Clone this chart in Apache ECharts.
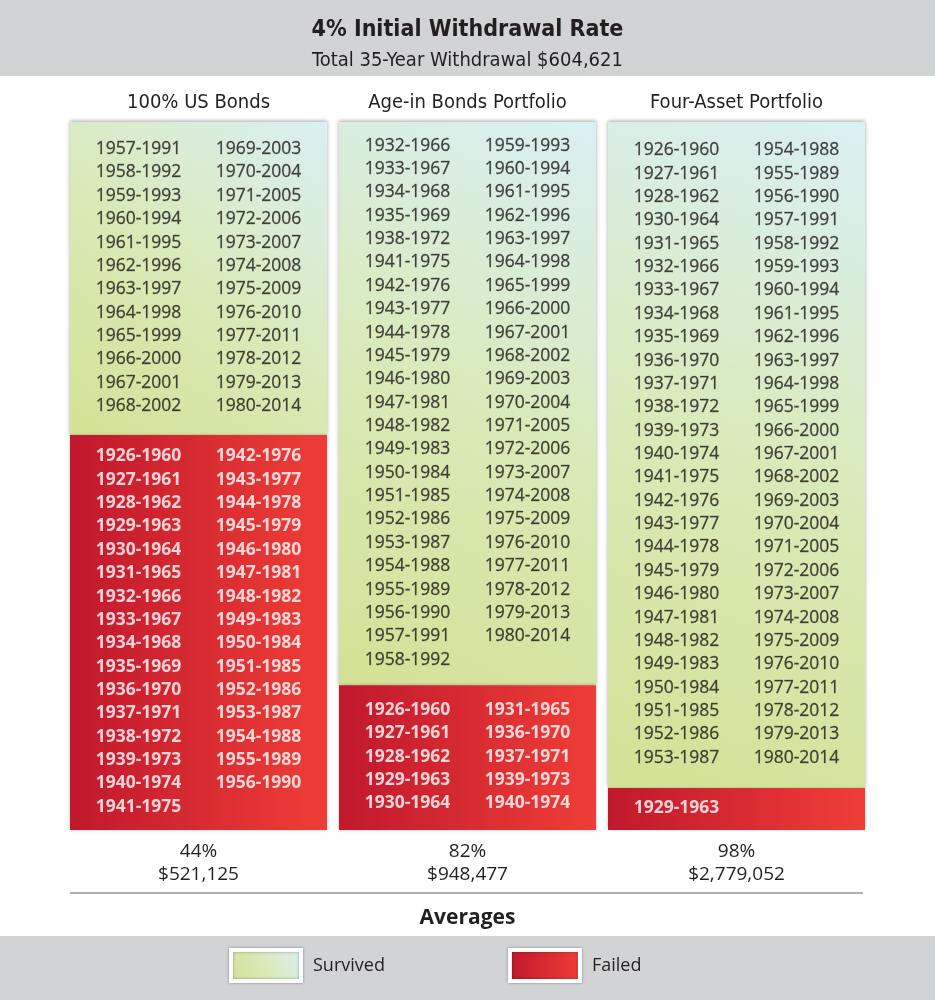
<!DOCTYPE html>
<html><head><meta charset="utf-8">
<script src="https://cdn.jsdelivr.net/npm/echarts@6/dist/echarts.min.js"></script>
<style>html,body{margin:0;padding:0;background:#fff}#c{width:935px;height:1000px}</style>
</head><body><div id="c"></div>
<script>
// ---- data ----
const portfolios = ['100% US Bonds', 'Age-in Bonds Portfolio', 'Four-Asset Portfolio'];
const successRates = ['44%', '82%', '98%'];
const avgEndingValues = ['$521,125', '$948,477', '$2,779,052'];
// start years of the 35-year retirement periods (period = start .. start+34)
const survivedBonds = [1957,1958,1959,1960,1961,1962,1963,1964,1965,1966,1967,1968,
                       1969,1970,1971,1972,1973,1974,1975,1976,1977,1978,1979,1980];
const survivedAgeIn = [1932,1933,1934,1935,1938,1941,1942,1943,1944,1945,1946,1947,1948,1949,1950,1951,1952,1953,1954,1955,1956,1957,1958,
                       1959,1960,1961,1962,1963,1964,1965,1966,1967,1968,1969,1970,1971,1972,1973,1974,1975,1976,1977,1978,1979,1980];
const survivedFourAsset = [1926,1927,1928,1930,1931,1932,1933,1934,1935,1936,1937,1938,1939,1940,1941,1942,1943,1944,1945,1946,1947,1948,1949,1950,1951,1952,1953,
                           1954,1955,1956,1957,1958,1959,1960,1961,1962,1963,1964,1965,1966,1967,1968,1969,1970,1971,1972,1973,1974,1975,1976,1977,1978,1979,1980];
const failedBonds = [1926,1927,1928,1929,1930,1931,1932,1933,1934,1935,1936,1937,1938,1939,1940,1941,
                     1942,1943,1944,1945,1946,1947,1948,1949,1950,1951,1952,1953,1954,1955,1956];
const failedAgeIn = [1926,1927,1928,1929,1930, 1931,1936,1937,1939,1940];
const failedFourAsset = [1929];
// block heights (in text-row units)
const survivedHeight = [13.4, 24.1, 28.5];
const failedHeight = [16.9, 6.2, 1.8];
const totalHeight = 30.3;

const survivedLists = [survivedBonds, survivedAgeIn, survivedFourAsset];
const failedLists = [failedBonds, failedAgeIn, failedFourAsset];

// ---- build ----
const NARROW = "'Liberation Sans Narrow','DejaVu Sans Condensed',Roboto,sans-serif";
const BASE = "'Open Sans',sans-serif";
const INK = '#231f20';

function labelData(lists, heights, starts) {
  const out = [];
  lists.forEach((list, i) => {
    const rows = Math.ceil(list.length / 2);
    const first = starts[i] + (heights[i] - (rows - 1)) / 2 - 0.04;
    list.forEach((y, j) => {
      const col = j < rows ? 0 : 1;
      const k = col ? j - rows : j;
      out.push({ name: y + '-' + (y + 34), value: [i + (col ? 0.223 : -0.223), first + k] });
    });
  });
  return out;
}

const survivedColor = new echarts.graphic.LinearGradient(0, 1, 1, 0, [
  { offset: 0, color: '#d3e294' }, { offset: 0.5, color: '#d9eab9' }, { offset: 1, color: '#daf0f4' }]);
const failedColor = new echarts.graphic.LinearGradient(0, 0, 1, 0, [
  { offset: 0, color: '#c0182d' }, { offset: 1, color: '#ef3e37' }]);

const chart = echarts.init(document.getElementById('c'));
chart.setOption({
  backgroundColor: '#fff',
  animation: false,
  title: [
    { text: '4% Initial Withdrawal Rate', left: 'center', top: 11,
      textStyle: { fontFamily: NARROW, fontSize: 23, fontWeight: 'bold', color: INK, lineHeight: 28 } },
    { text: 'Total 35-Year Withdrawal $604,621', left: 'center', top: 44,
      textStyle: { fontFamily: NARROW, fontSize: 20, fontWeight: 'normal', color: INK, lineHeight: 23 } },
    { text: 'Averages', left: 'center', top: 900,
      textStyle: { fontFamily: BASE, fontSize: 21, fontWeight: 'bold', color: INK, lineHeight: 26 } }
  ],
  graphic: [
    { type: 'rect', z: -1, shape: { x: 0, y: 0, width: 935, height: 76 }, style: { fill: '#d1d3d4' } },
    { type: 'rect', z: -1, shape: { x: 0, y: 936, width: 935, height: 64 }, style: { fill: '#d1d3d4' } },
    { type: 'line', z: -1, shape: { x1: 70, y1: 893, x2: 863, y2: 893 }, style: { stroke: '#aeaeae', lineWidth: 2 } }
  ],
  legend: {
    left: 229, top: 948, padding: 0, itemWidth: 70, itemHeight: 31, itemGap: 123, selectedMode: false,
    textStyle: { fontFamily: BASE, fontSize: 18, color: INK, padding: [0, 0, 0, 7] },
    data: [
      { name: 'Survived', icon: 'rect', itemStyle: { borderColor: '#fff', borderWidth: 4, shadowBlur: 3, shadowColor: 'rgba(0,0,0,0.35)' } },
      { name: 'Failed', icon: 'rect', itemStyle: { borderColor: '#fff', borderWidth: 4, shadowBlur: 3, shadowColor: 'rgba(0,0,0,0.35)' } }
    ]
  },
  grid: { left: 64, width: 807, top: 122, height: 708 },
  xAxis: [
    { type: 'category', data: portfolios, position: 'top',
      axisLine: { show: false }, axisTick: { show: false },
      axisLabel: { fontFamily: NARROW, fontSize: 20, color: INK, lineHeight: 23, margin: 8 } },
    { type: 'category', data: portfolios.map((p, i) => successRates[i] + '\n' + avgEndingValues[i]), position: 'bottom',
      axisLine: { show: false }, axisTick: { show: false },
      axisLabel: { fontFamily: BASE, fontSize: 19, color: INK, lineHeight: 23, margin: 10 } },
    { type: 'value', min: -0.5, max: 2.5, show: false }
  ],
  yAxis: { type: 'value', inverse: true, min: 0, max: totalHeight, show: false },
  series: [
    { name: 'Survived', type: 'bar', stack: 'all', xAxisIndex: 0, barWidth: 257, silent: true,
      itemStyle: { color: survivedColor, shadowBlur: 4, shadowColor: 'rgba(0,0,0,0.35)', shadowOffsetY: -1 },
      data: survivedHeight },
    { name: 'Failed', type: 'bar', stack: 'all', xAxisIndex: 0, barWidth: 257, silent: true,
      itemStyle: { color: failedColor, shadowBlur: 3, shadowColor: 'rgba(0,0,0,0.25)' },
      data: failedHeight },
    { name: 'survivedLabels', type: 'scatter', xAxisIndex: 2, symbolSize: 1, silent: true, z: 5,
      itemStyle: { color: 'rgba(0,0,0,0)' },
      label: { show: true, position: 'inside', formatter: '{b}', fontFamily: BASE, fontSize: 17.5, color: '#1a1718',
               textBorderColor: 'rgba(26,23,24,0.7)', textBorderWidth: 0.35 },
      data: labelData(survivedLists, survivedHeight, [0, 0, 0]) },
    { name: 'failedLabels', type: 'scatter', xAxisIndex: 2, symbolSize: 1, silent: true, z: 5,
      itemStyle: { color: 'rgba(0,0,0,0)' },
      label: { show: true, position: 'inside', formatter: '{b}', fontFamily: BASE, fontSize: 17.5, fontWeight: 'bold', color: '#fff',
               textBorderWidth: 0 },
      data: labelData(failedLists, failedHeight, survivedHeight) }
  ]
});
</script></body></html>
